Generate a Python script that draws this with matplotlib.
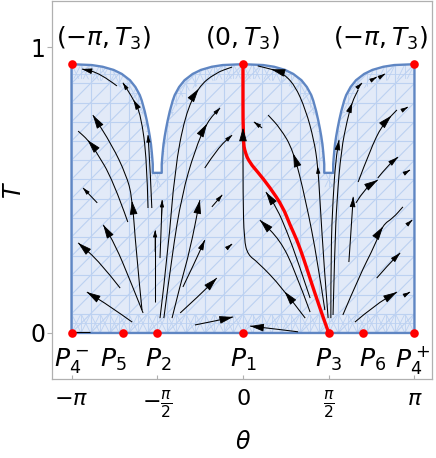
import numpy as np
import matplotlib.pyplot as plt
from matplotlib.patches import Polygon, PathPatch
from matplotlib.path import Path
from matplotlib.collections import LineCollection

plt.rcParams['mathtext.fontset'] = 'dejavusans'
plt.rcParams['font.family'] = 'DejaVu Sans'

T3 = 0.94

# upper edge of the region:
# distance from the notch at |theta| = pi/2  ->  T
edge_d = [0.082, 0.082, 0.09, 0.10, 0.115, 0.137, 0.16, 0.19, 0.229, 0.284, 0.32, 0.40,
          0.50, 0.65, 0.80, 1.00, 1.20, np.pi / 2]
edge_T = [0.56, 0.59, 0.61, 0.632, 0.66, 0.688, 0.713, 0.742, 0.775, 0.813, 0.832, 0.86,
          0.884, 0.906, 0.92, 0.931, 0.937, T3]

# fixed points
pts_theta = [-np.pi, -2.2, -np.pi / 2, 0, np.pi / 2, 2.2, np.pi, -np.pi, 0, np.pi]
pts_T = [0, 0, 0, 0, 0, 0, 0, T3, T3, T3]

bottom_labels = [r'$P_4^-$', r'$P_5$', r'$P_2$', r'$P_1$', r'$P_3$', r'$P_6$', r'$P_4^+$']
bottom_label_theta = [-3.15, -2.38, -1.56, 0, 1.56, 2.38, 3.11]
top_labels = [r'$(-\pi,T_3)$', r'$(0,T_3)$', r'$(-\pi,T_3)$']
top_label_theta = [-2.55, 0, 2.53]

xtick_vals = [-np.pi, -np.pi / 2, 0, np.pi / 2, np.pi]
xtick_labels = [r'$-\pi$', r'$-\frac{\pi}{2}$', r'$0$', r'$\frac{\pi}{2}$', r'$\pi$']

# red orbit from P3 up to (0, T3)
red_theta = [np.pi / 2, 1.50, 1.39, 1.25, 1.12, 0.99, 0.86, 0.73, 0.49, 0.27, 0.13, 0.04, 0.0, 0.0]
red_T = [0, 0.038, 0.098, 0.178, 0.255, 0.325, 0.378, 0.441, 0.51, 0.563, 0.594, 0.629, 0.675, T3]

# stream lines: (theta, T, [(index of arrow head, size)])
left_streams = [
    ([-2.31, -2.62, -2.95], [0.864, 0.909, 0.923], [(2, 'M')]),
    ([-1.74, -1.76, -1.87, -2.00, -2.20], [0.437, 0.605, 0.762, 0.815, 0.875], [(3, 'M'), (4, 'S')]),
    ([-1.67, -1.70, -1.74], [0.437, 0.57, 0.692], [(2, 'S')]),
    ([-1.85, -1.96, -2.03, -2.14, -2.40, -2.75], [0.080, 0.290, 0.476, 0.553, 0.657, 0.762], [(2, 'B'), (5, 'B')]),
    ([-1.83, -2.07, -2.34, -2.56], [0.070, 0.185, 0.308, 0.378], [(3, 'B')]),
    ([-2.25, -2.62, -3.02], [0.157, 0.248, 0.315], [(2, 'B')]),
    ([-2.03, -2.44, -2.86], [0.038, 0.094, 0.143], [(2, 'B')]),
    ([-2.67, -2.93], [0.455, 0.507], [(1, 'S')]),
    ([-2.11, -2.38, -2.71, -2.84, -3.02], [0.388, 0.535, 0.640, 0.675, 0.706], [(3, 'B')]),
    ([-2.80, -3.10], [0.004, 0.004], []),
    ([-1.61, -1.61], [0.108, 0.360], [(1, 'S')]),
    ([-1.52, -1.48], [0.262, 0.465], [(1, 'S')]),
]

centre_streams = [
    ([-1.52, -1.37, -1.25, -1.06, -0.82, -0.51, -0.20], [0.052, 0.290, 0.570, 0.762, 0.860, 0.909, 0.930], [(4, 'B')]),
    ([-1.45, -1.30, -1.12, -0.88, -0.66, -0.42], [0.052, 0.273, 0.483, 0.640, 0.738, 0.787], [(4, 'B'), (5, 'S')]),
    ([-1.30, -1.15, -0.97, -0.79], [0.052, 0.168, 0.290, 0.465], [(3, 'B')]),
    ([-0.70, -0.46, -0.20], [0.577, 0.647, 0.692], [(2, 'S')]),
    ([-0.57, -0.38], [0.441, 0.483], [(1, 'S')]),
    ([-1.10, -0.88, -0.70], [0.161, 0.248, 0.325], [(2, 'M')]),
    ([-1.15, -0.79, -0.48], [0.070, 0.133, 0.192], [(2, 'B')]),
    ([-0.29, -0.20], [0.297, 0.311], [(1, 'S')]),
    ([-0.88, -0.51, -0.18], [0.028, 0.042, 0.056], [(2, 'B')]),
    ([1.01, 0.59, 0.13], [0.004, 0.014, 0.024], [(2, 'B')]),
    ([1.14, 0.71, 0.27, 0.09, 0.02, 0.0, 0.0, 0.0], [0.052, 0.161, 0.248, 0.273, 0.325, 0.483, 0.727, 0.902], [(1, 'B'), (6, 'B')]),
    ([1.23, 0.95, 0.68, 0.31], [0.073, 0.220, 0.325, 0.395], [(3, 'B')]),
    ([1.23, 1.01, 0.81, 0.62, 0.42], [0.122, 0.248, 0.353, 0.437, 0.493], [(4, 'B')]),
    ([1.50, 1.37, 1.15, 0.92, 0.68, 0.46], [0.080, 0.248, 0.465, 0.640, 0.717, 0.762], [(3, 'B')]),
    ([1.56, 1.48, 1.41, 1.37, 1.30, 1.15, 0.95, 0.72, 0.53, 0.27],
     [0.052, 0.248, 0.465, 0.587, 0.675, 0.780, 0.867, 0.910, 0.922, 0.934], [(3, 'S'), (8, 'B')]),
    ([0.35, 0.20], [0.717, 0.738], [(1, 'S')]),
]

right_streams = [
    ([1.65, 1.68, 1.72, 1.80, 1.91, 2.00, 2.11], [0.063, 0.290, 0.465, 0.640, 0.745, 0.808, 0.850], [(5, 'M')]),
    ([1.61, 1.61, 1.65, 1.70, 1.76], [0.052, 0.290, 0.472, 0.605, 0.675], [(4, 'M')]),
    ([2.09, 2.18], [0.857, 0.874], [(1, 'S')]),
    ([2.36, 2.45], [0.885, 0.895], [(1, 'S')]),
    ([2.51, 2.60], [0.895, 0.906], [(1, 'S')]),
    ([1.94, 1.98, 2.02], [0.248, 0.360, 0.476], [(2, 'M')]),
    ([2.07, 2.24, 2.47], [0.455, 0.507, 0.535], [(2, 'B')]),
    ([2.11, 2.33, 2.55, 2.73, 2.82], [0.528, 0.640, 0.727, 0.762, 0.780], [(3, 'B')]),
    ([2.47, 2.66, 2.84], [0.542, 0.587, 0.615], [(2, 'M')]),
    ([2.93, 3.02], [0.780, 0.790], [(1, 'S')]),
    ([3.00, 3.06], [0.563, 0.570], [(1, 'S')]),
    ([1.83, 2.14, 2.42, 2.56, 2.75, 2.93], [0.063, 0.203, 0.308, 0.378, 0.402, 0.441], [(3, 'B')]),
    ([3.06, 3.10], [0.388, 0.395], [(1, 'S')]),
    ([2.45, 2.66, 2.88], [0.192, 0.238, 0.280], [(2, 'M')]),
    ([2.05, 2.42, 2.82], [0.038, 0.098, 0.143], [(2, 'B')]),
    ([2.97, 3.06], [0.133, 0.143], [(1, 'S')]),
]

head_sizes = {'B': (0.85, 0.24), 'M': (0.6, 0.17), 'S': (0.4, 0.12)}

fill_col = '#e2eaf8'
mesh_col = '#bcd1f1'
edge_col = '#5f86c3'
frame_col = '#b0b0b0'


def smooth_path(th, tt):
    # quadratic B-spline style path through the read points
    p = np.column_stack([th, tt])
    n = len(p)
    if n == 2:
        return Path(p, [Path.MOVETO, Path.LINETO])
    verts = [p[0]]
    codes = [Path.MOVETO]
    for i in range(1, n - 1):
        verts += [p[i], (p[i] + p[i + 1]) / 2]
        codes += [Path.CURVE3, Path.CURVE3]
    verts.append(p[-1])
    codes.append(Path.LINETO)
    return Path(verts, codes)


def head_at(th, tt, i):
    p = np.column_stack([th, tt])
    n = len(p)
    if i == n - 1:
        s = p[0] if n == 2 else (p[-2] + p[-1]) / 2
        return p[-1], p[-1] - 0.3 * (p[-1] - s)
    s = p[0] if i == 1 else (p[i - 1] + p[i]) / 2
    e = (p[i] + p[i + 1]) / 2
    tip = 0.25 * s + 0.5 * p[i] + 0.25 * e
    return tip, tip - 0.15 * (e - s)


fig = plt.figure(figsize=(4.36, 4.58), dpi=100)
ax = fig.add_axes([52 / 436, 1 - 379 / 458, 380 / 436, 378 / 458])
ax.set_xlim(-3.499, 3.463)
ax.set_ylim(-0.161, 1.161)

# region
d = np.array(edge_d)
t = np.array(edge_T)
top_th = np.concatenate([-np.pi / 2 - d[::-1], -np.pi / 2 + d, np.pi / 2 - d[::-1], np.pi / 2 + d])
top_T = np.concatenate([t[::-1], t, t[::-1], t])
reg_th = np.concatenate([[-np.pi], top_th, [np.pi]])
reg_T = np.concatenate([[0], top_T, [0]])
ax.fill(reg_th, reg_T, color=fill_col, lw=0, zorder=1)
clip = Polygon(np.column_stack([reg_th, reg_T]), closed=True, fc='none', ec='none')
ax.add_patch(clip)

# mesh of the region
dth = 2 * np.pi / 18
dT = T3 / 14
segs = []
for k in range(19):
    x = -np.pi + k * dth
    segs.append([(x, 0), (x, 1)])
for j in range(15):
    segs.append([(-np.pi, j * dT), (np.pi, j * dT)])
for k in range(-16, 19):
    x = -np.pi + k * dth
    segs.append([(x, 0), (x + 16 * dth, 16 * dT)])
mesh = LineCollection(segs, colors=mesh_col, lw=0.8, zorder=1.5)
mesh.set_clip_path(clip)
ax.add_collection(mesh)

# denser mesh along the bottom and along the upper edge
fine = []
for k in range(-40, 40):
    x = -np.pi + k * dth / 2
    fine.append([(x, 0), (x - 8 * dth, 16 * dT)])
    fine.append([(x, 0), (x + 8 * dth, 16 * dT)])
for k in range(37):
    x = -np.pi + k * dth / 2
    fine.append([(x, 0), (x, 1)])
for j in range(30):
    fine.append([(-np.pi, j * dT / 2), (np.pi, j * dT / 2)])
band = Polygon([(-np.pi, 0), (np.pi, 0), (np.pi, dT), (-np.pi, dT)], closed=True, fc='none', ec='none')
ax.add_patch(band)
fine1 = LineCollection(fine, colors=mesh_col, lw=0.6, zorder=1.5)
fine1.set_clip_path(band)
ax.add_collection(fine1)
band2 = Polygon(np.column_stack([np.concatenate([top_th, top_th[::-1]]),
                                 np.concatenate([top_T, top_T[::-1] - 0.05])]),
                closed=True, fc='none', ec='none')
ax.add_patch(band2)
fine2 = LineCollection(fine, colors=mesh_col, lw=0.6, zorder=1.5)
fine2.set_clip_path(band2)
ax.add_collection(fine2)

ax.plot(np.append(reg_th, reg_th[0]), np.append(reg_T, reg_T[0]), color=edge_col, lw=1.7,
        zorder=2, solid_joinstyle='round')

# stream lines
for group in (left_streams, centre_streams, right_streams):
    for th, tt, heads in group:
        ax.add_patch(PathPatch(smooth_path(th, tt), fc='none', ec='black', lw=0.75, zorder=3))
        for i, s in heads:
            hl, hw = head_sizes[s]
            tip, back = head_at(th, tt, i)
            ax.annotate('', xy=tip, xytext=back,
                        arrowprops=dict(arrowstyle=f'-|>,head_length={hl},head_width={hw}',
                                        color='black', lw=0.6, shrinkA=0, shrinkB=0,
                                        mutation_scale=10),
                        zorder=5)

ax.add_patch(PathPatch(smooth_path(red_theta, red_T), fc='none', ec='#ff0000', lw=2.4,
                       zorder=4, capstyle='round'))
ax.plot(pts_theta, pts_T, 'o', color='#ff0000', ms=6.2, mec='none', zorder=6, clip_on=False)

for lab, x in zip(bottom_labels, bottom_label_theta):
    ax.text(x, -0.095, lab, ha='center', va='center', fontsize=18, clip_on=False, zorder=7)
for lab, x in zip(top_labels, top_label_theta):
    ax.text(x, 1.031, lab, ha='center', va='center', fontsize=18, clip_on=False, zorder=7)

# frame and ticks
for sp in ax.spines.values():
    sp.set_color(frame_col)
    sp.set_linewidth(0.9)
ax.set_xticks(xtick_vals, xtick_labels)
ax.set_yticks([0, 1], ['0', '1'])
ax.tick_params(axis='x', direction='in', length=3, color=frame_col, labelsize=16, pad=7)
ax.tick_params(axis='y', direction='out', length=3.5, color=frame_col, labelsize=17, pad=1)
ax.set_xlabel(r'$\theta$', fontsize=17)
ax.xaxis.set_label_coords(0.503, -0.135)
ax.set_ylabel(r'$T$', fontsize=17)
ax.yaxis.set_label_coords(-0.068, 0.5)

fig.savefig('out.png', dpi=100)
